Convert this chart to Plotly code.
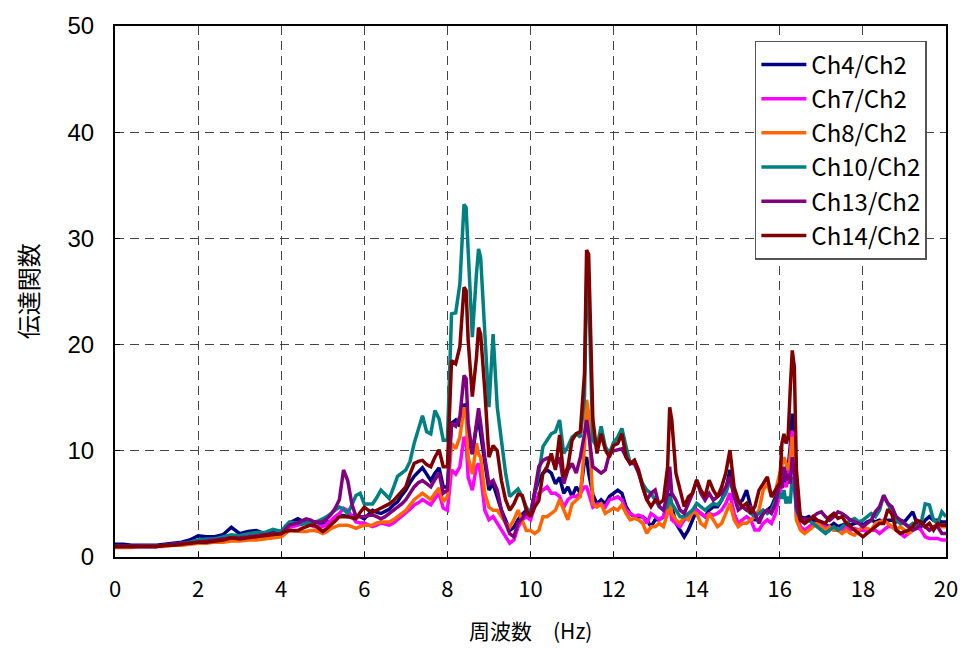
import plotly.graph_objects as go

# Frequency grid (Hz)
freq = [0.0, 0.2, 0.4, 0.6, 0.8, 1.0, 1.2, 1.4, 1.6, 1.8, 2.0, 2.2, 2.4, 2.6, 2.8, 3.0, 3.2, 3.4, 3.6, 3.8,
        4.0, 4.1, 4.2, 4.3, 4.4, 4.5, 4.6, 4.7, 4.8, 4.9, 5.0, 5.1, 5.2, 5.3, 5.4, 5.5, 5.6, 5.7, 5.8, 5.9,
        6.0, 6.1, 6.2, 6.3, 6.4, 6.5, 6.6, 6.7, 6.8, 6.9, 7.0, 7.1, 7.2, 7.3, 7.4, 7.5, 7.6, 7.7, 7.8, 7.9,
        8.0, 8.1, 8.2, 8.3, 8.4, 8.45, 8.5, 8.6, 8.7, 8.75, 8.8, 8.9, 9.0, 9.1, 9.2, 9.3, 9.4, 9.5, 9.6, 9.7, 9.8, 9.9,
        10.0, 10.1, 10.2, 10.3, 10.4, 10.5, 10.6, 10.7, 10.8, 10.9, 11.0, 11.1, 11.2, 11.3, 11.35,
        11.4, 11.5, 11.6, 11.7, 11.8, 11.9, 12.0,
        12.1, 12.2, 12.3, 12.4, 12.5, 12.6, 12.7, 12.8, 12.9, 13.0, 13.1, 13.2, 13.3, 13.35,
        13.4, 13.5, 13.6, 13.7, 13.8, 13.9, 14.0, 14.1, 14.2, 14.3, 14.4, 14.5, 14.6, 14.7, 14.8, 14.9,
        15.0, 15.1, 15.2, 15.3, 15.4, 15.5, 15.6, 15.7, 15.8, 15.9, 16.0,
        16.05, 16.1, 16.15, 16.2, 16.25, 16.3, 16.35, 16.4,
        16.5, 16.6, 16.7, 16.8, 16.9, 17.0, 17.1, 17.2, 17.3, 17.4, 17.5, 17.6, 17.7, 17.8, 17.9,
        18.0, 18.1, 18.2, 18.3, 18.4, 18.5, 18.6, 18.7, 18.8, 18.9, 19.0, 19.1, 19.2, 19.3, 19.4, 19.5,
        19.6, 19.7, 19.8, 19.9, 20.0]

ch4 = [1.2, 1.2, 1.1, 1.1, 1.1, 1.1, 1.2, 1.3, 1.4, 1.6, 2.0, 1.9, 1.9, 2.1, 2.8, 2.2, 2.4, 2.5, 2.2, 2.4,
       2.4, 2.8, 3.2, 3.4, 3.6, 3.4, 3.3, 3.3, 3.3, 3.2, 3.2, 3.3, 3.3, 3.6, 3.9, 3.9, 3.8, 3.9, 3.9, 3.8,
       3.6, 4.0, 4.4, 4.2, 4.1, 4.3, 4.5, 4.9, 5.2, 5.8, 6.3, 7.0, 7.6, 8.0, 8.4, 7.8, 7.2, 7.9, 8.4, 6.6,
       6.6, 12.6, 12.9, 12.3, 14.4, 14.1, 11.3, 9.7, 12.3, 12.9, 11.6, 8.5, 6.3, 6.9, 5.7, 4.4, 3.5, 2.5, 2.8, 3.5, 4.0, 4.4,
       4.1, 6.0, 7.25, 7.9, 8.2, 7.9, 6.9, 7.5, 6.0, 6.6, 5.7, 6.6, 6.0, 9.1, 9.4,
       7.9, 5.9, 5.0, 5.4, 5.0, 5.7, 6.0,
       6.3, 6.0, 4.74, 4.1, 3.8, 3.8, 3.8, 3.5, 2.86, 3.5, 3.5, 3.8, 5.05, 6.0,
       4.74, 3.17, 2.54, 1.9, 2.54, 3.5, 4.42, 4.1, 3.8, 4.42, 4.74, 4.74, 5.36, 6.3, 8.2, 5.67,
       5.05, 5.36, 6.3, 4.74, 3.5, 3.5, 4.1, 4.42, 4.74, 5.67, 7.0,
       6.5, 7.55, 6.9, 8.2, 10.4, 13.5, 11.9, 5.04,
       3.8, 3.63, 3.8, 3.47, 3.16, 3.16, 3.0, 2.85, 3.16, 2.85, 3.0, 3.16, 3.0, 3.16, 3.3,
       3.0, 3.3, 3.47, 3.3, 3.47, 3.3, 3.47, 3.47, 3.3, 3.47, 3.3, 3.8, 4.26, 3.16, 2.85, 3.47,
       3.8, 3.47, 3.47, 3.3, 3.3]

ch7 = [1.0, 1.0, 1.0, 1.0, 1.0, 1.0, 1.1, 1.1, 1.2, 1.3, 1.4, 1.5, 1.5, 1.6, 1.7, 1.6, 1.8, 1.8, 1.9, 2.0,
       2.1, 2.5, 2.8, 2.9, 3.0, 3.1, 3.2, 3.0, 2.85, 2.85, 2.85, 3.1, 3.5, 3.8, 4.1, 4.6, 4.4, 3.8, 3.3, 3.2,
       3.2, 3.0, 2.85, 3.0, 3.2, 3.1, 3.0, 3.2, 3.5, 3.8, 4.1, 4.5, 4.9, 5.1, 5.4, 5.1, 4.9, 5.5, 6.0, 4.6,
       4.4, 8.2, 7.8, 8.5, 11.3, 11.0, 7.5, 6.3, 8.5, 8.8, 7.8, 4.4, 3.5, 3.8, 3.2, 2.5, 1.9, 1.3, 1.6, 2.8, 3.5, 3.8,
       3.5, 4.7, 6.0, 6.3, 6.6, 6.0, 6.0, 5.7, 4.7, 5.4, 5.7, 5.7, 6.0, 6.6, 6.6,
       6.0, 4.7, 5.0, 5.0, 4.7, 5.4, 5.5,
       5.67, 5.36, 4.42, 4.1, 3.8, 3.95, 3.8, 3.17, 4.1, 3.8, 3.5, 3.8, 5.05, 4.74,
       3.5, 3.17, 2.86, 3.5, 3.8, 4.1, 4.42, 4.1, 3.8, 4.1, 3.95, 4.1, 4.42, 5.05, 6.0, 4.1,
       3.17, 3.5, 3.8, 3.5, 2.54, 2.54, 3.17, 3.5, 3.17, 4.1, 6.0,
       7.0, 6.9, 6.6, 7.2, 9.4, 11.9, 10.05, 3.8,
       2.85, 2.53, 2.85, 3.16, 3.16, 3.0, 2.85, 2.7, 2.53, 2.7, 2.53, 2.85, 2.53, 2.7, 2.53,
       2.53, 2.38, 2.53, 2.53, 2.22, 2.53, 2.85, 2.85, 2.53, 2.22, 1.9, 2.22, 2.53, 2.85, 2.53, 1.9,
       1.75, 1.75, 1.75, 1.6, 1.6]

ch8 = [0.9, 0.9, 0.9, 1.0, 1.0, 1.0, 1.0, 1.1, 1.1, 1.2, 1.3, 1.3, 1.4, 1.4, 1.5, 1.5, 1.6, 1.6, 1.7, 1.8,
       1.9, 2.2, 2.5, 2.45, 2.4, 2.4, 2.4, 2.5, 2.5, 2.4, 2.2, 2.4, 2.7, 2.85, 3.0, 3.0, 3.0, 2.85, 2.7, 2.85,
       3.0, 3.0, 3.0, 3.2, 3.3, 3.3, 3.3, 3.5, 3.8, 4.1, 4.4, 4.9, 5.4, 5.7, 6.0, 5.7, 5.4, 6.0, 6.5, 5.2,
       5.7, 10.7, 10.2, 11.3, 14.1, 13.5, 9.4, 7.8, 10.7, 9.7, 9.4, 6.0, 4.7, 4.4, 4.4, 3.8, 3.2, 2.8, 3.5, 4.4, 3.5, 2.5,
       2.5, 2.2, 2.5, 3.8, 3.8, 4.1, 4.4, 5.4, 4.4, 3.5, 5.0, 5.4, 5.7, 10.4, 14.8,
       13.5, 5.0, 4.7, 5.0, 4.1, 4.4, 4.6,
       4.42, 4.9, 4.1, 3.5, 3.64, 3.5, 3.17, 2.23, 2.86, 2.86, 3.17, 2.86, 4.1, 5.67,
       4.1, 3.5, 3.17, 3.8, 3.5, 4.27, 4.1, 3.17, 2.86, 4.1, 3.5, 2.86, 3.17, 4.1, 5.05, 3.5,
       2.86, 3.17, 3.17, 3.5, 3.8, 4.42, 6.3, 6.9, 5.67, 6.3, 8.0,
       8.5, 9.4, 8.8, 8.2, 9.1, 11.3, 9.4, 3.47,
       2.53, 2.22, 2.53, 2.85, 3.16, 2.85, 2.53, 2.85, 2.53, 2.53, 2.22, 2.53, 2.22, 2.06, 2.53,
       2.85, 2.7, 2.53, 3.16, 3.3, 3.47, 3.16, 2.85, 2.53, 2.85, 2.53, 2.22, 2.53, 2.85, 3.16, 2.85,
       2.53, 2.85, 3.16, 2.85, 2.85]

ch10 = [1.0, 1.0, 1.0, 1.0, 1.0, 1.0, 1.1, 1.2, 1.3, 1.4, 1.6, 1.7, 1.7, 1.9, 2.1, 2.0, 2.2, 2.3, 2.3, 2.6,
        2.4, 2.9, 3.3, 3.2, 3.2, 3.1, 3.2, 3.3, 3.3, 3.4, 3.6, 3.8, 4.1, 4.4, 4.7, 4.5, 4.1, 4.9, 5.8, 6.0,
        5.0, 5.0, 5.0, 5.6, 6.3, 5.9, 5.5, 6.5, 7.6, 7.9, 8.2, 9.0, 10.7, 12.0, 13.3, 11.8, 11.6, 13.8, 13.0, 11.0,
        11.0, 22.9, 23.0, 25.7, 33.2, 32.9, 28.2, 20.7, 26.7, 29.0, 28.2, 21.3, 14.1, 21.0, 14.1, 11.0, 7.9, 5.7, 6.0, 6.4, 5.7, 4.7,
        4.1, 6.0, 7.9, 10.4, 11.0, 11.6, 11.8, 12.9, 9.75, 10.4, 11.3, 11.6, 11.3, 15.1, 26.0,
        25.1, 11.0, 10.4, 12.3, 10.4, 9.75, 10.8,
        11.3, 12.1, 10.4, 8.8, 9.1, 8.0, 6.9, 6.3, 6.0, 5.36, 4.74, 4.42, 4.74, 5.67,
        5.05, 4.42, 3.8, 3.8, 4.1, 4.42, 5.05, 4.74, 4.42, 4.74, 5.05, 4.9, 5.36, 6.0, 7.24, 6.0,
        5.05, 4.74, 4.42, 4.1, 3.8, 4.1, 4.42, 4.1, 4.42, 5.36, 6.0,
        5.5, 6.3, 5.04, 5.67, 5.04, 7.55, 6.6, 4.4,
        3.47, 3.3, 3.47, 3.16, 2.85, 2.53, 2.22, 2.53, 2.85, 2.53, 2.85, 3.16, 3.47, 3.63, 3.3,
        3.47, 3.8, 4.1, 3.8, 4.4, 5.8, 5.04, 4.4, 3.47, 3.16, 3.16, 2.85, 3.16, 2.85, 3.16, 5.0,
        4.9, 3.47, 3.16, 4.26, 3.8]

ch13 = [1.0, 1.0, 1.0, 1.0, 1.0, 1.0, 1.1, 1.2, 1.3, 1.3, 1.4, 1.5, 1.6, 1.7, 1.8, 1.8, 1.9, 2.0, 2.1, 2.2,
        2.2, 2.6, 3.0, 3.1, 3.2, 3.4, 3.6, 3.5, 3.3, 3.3, 3.3, 3.6, 4.0, 4.6, 5.4, 8.2, 7.2, 5.0, 3.8, 3.8,
        3.8, 3.9, 3.95, 3.8, 3.6, 3.8, 4.1, 4.4, 4.6, 5.0, 5.4, 6.0, 6.6, 7.0, 7.2, 6.9, 6.6, 7.3, 7.9, 6.0,
        6.3, 12.6, 12.3, 13.2, 17.1, 16.8, 12.6, 9.7, 12.6, 14.0, 12.6, 9.4, 6.9, 7.2, 6.3, 4.4, 3.2, 2.2, 1.9, 3.2, 3.6, 4.2,
        3.8, 6.3, 8.5, 9.1, 9.3, 9.4, 8.5, 9.4, 6.9, 8.2, 8.8, 7.9, 9.4, 11.6, 12.9,
        11.6, 8.5, 8.2, 7.9, 8.2, 9.75, 10.0,
        10.06, 10.2, 9.4, 8.8, 8.8, 7.9, 6.6, 5.36, 6.0, 6.3, 4.74, 4.42, 6.0, 8.5,
        6.0, 5.36, 4.42, 4.1, 5.05, 6.0, 7.24, 6.0, 5.36, 6.0, 5.36, 5.67, 6.0, 6.6, 7.55, 5.67,
        4.42, 4.74, 4.42, 4.74, 4.1, 3.17, 4.1, 4.42, 4.1, 5.05, 7.0,
        6.5, 8.5, 7.2, 7.86, 6.9, 9.4, 8.2, 4.73,
        3.47, 3.63, 3.47, 3.8, 4.1, 4.26, 3.8, 3.47, 3.8, 4.26, 4.1, 3.8, 3.47, 3.3, 3.16,
        2.85, 3.16, 3.47, 4.26, 4.73, 5.8, 5.04, 4.73, 3.8, 3.47, 3.16, 2.85, 2.53, 2.7, 3.16, 2.85,
        2.53, 2.85, 2.85, 2.22, 2.22]

ch14 = [1.0, 1.0, 1.0, 1.0, 1.0, 1.0, 1.1, 1.1, 1.2, 1.3, 1.4, 1.4, 1.5, 1.6, 1.8, 1.7, 1.8, 1.9, 2.0, 2.1,
        2.2, 2.4, 2.5, 2.5, 2.5, 2.7, 2.85, 3.0, 3.0, 2.7, 2.4, 2.7, 3.0, 3.4, 3.8, 3.8, 3.8, 3.7, 3.6, 4.2,
        4.7, 4.4, 4.2, 4.4, 4.6, 4.8, 5.0, 5.3, 5.7, 6.1, 6.6, 7.8, 8.8, 9.0, 9.1, 8.7, 8.5, 9.4, 10.1, 8.5,
        8.5, 18.5, 18.2, 19.8, 25.4, 25.1, 20.4, 15.1, 18.8, 21.6, 21.0, 15.7, 9.4, 10.5, 10.0, 7.2, 5.4, 4.4, 5.0, 5.9, 5.8, 4.4,
        3.8, 4.7, 5.3, 7.9, 8.5, 9.75, 8.2, 11.5, 7.5, 8.5, 11.0, 11.6, 11.8, 17.3, 28.9,
        28.5, 13.0, 9.75, 11.6, 10.1, 9.4, 10.5,
        10.7, 11.6, 9.4, 8.8, 9.1, 8.2, 6.6, 5.4, 4.74, 5.36, 5.05, 5.36, 8.5, 14.1,
        12.9, 7.9, 6.3, 4.74, 5.67, 6.0, 7.24, 6.3, 5.67, 7.24, 6.3, 5.67, 6.6, 7.9, 10.06, 6.6,
        5.36, 4.74, 5.05, 4.1, 4.74, 6.3, 6.9, 7.55, 5.67, 6.3, 7.0,
        10.7, 11.6, 10.7, 11.3, 15.7, 19.45, 17.9, 8.2,
        3.47, 3.16, 3.47, 3.8, 3.47, 3.3, 3.16, 3.8, 4.1, 3.63, 3.8, 3.16, 2.85, 2.53, 2.22,
        1.9, 2.22, 2.53, 2.85, 3.16, 3.16, 4.5, 4.0, 2.53, 2.22, 2.38, 2.53, 2.85, 3.47, 3.3, 2.85,
        3.16, 2.53, 3.16, 3.0, 3.0]

series_names = ["Ch4/Ch2", "Ch7/Ch2", "Ch8/Ch2", "Ch10/Ch2", "Ch13/Ch2", "Ch14/Ch2"]
series_values = [ch4, ch7, ch8, ch10, ch13, ch14]
series_colors = ["#000080", "#FF00FF", "#FF6600", "#008080", "#800080", "#800000"]

x_ticks = [0, 2, 4, 6, 8, 10, 12, 14, 16, 18, 20]
y_ticks = [0, 10, 20, 30, 40, 50]

for v in series_values:
    assert len(v) == len(freq), (len(v), len(freq))

JP = "Noto Sans CJK JP"

fig = go.Figure()
for name, vals, col in zip(series_names, series_values, series_colors):
    fig.add_trace(go.Scatter(
        x=freq, y=vals, name=name, mode="lines",
        line=dict(color=col, width=3.5), legendgroup=name,
    ))

fig.update_layout(
    width=970, height=648,
    margin=dict(l=115, r=15, t=25, b=91),
    paper_bgcolor="white", plot_bgcolor="white",
    showlegend=True,
    legend=dict(
        x=0.77, y=0.972, xanchor="left", yanchor="top",
        bgcolor="white", bordercolor="#555555", borderwidth=1.5,
        font=dict(family=JP, size=24, color="black"),
        tracegroupgap=0, itemwidth=45,
    ),
    font=dict(family=JP, color="black"),
)

fig.update_xaxes(
    range=[0, 20], tickvals=x_ticks, ticktext=[str(t) for t in x_ticks],
    showline=True, linecolor="black", linewidth=2, mirror=True,
    showgrid=True, gridcolor="#444444", gridwidth=1, griddash="9px,6px",
    ticks="inside", ticklen=5, tickcolor="black", tickwidth=1,
    tickfont=dict(family=JP, size=22, color="black"),
    ticklabelstandoff=12, zeroline=False,
)
fig.update_yaxes(
    range=[0, 50], tickvals=y_ticks, ticktext=[str(t) for t in y_ticks],
    showline=True, linecolor="black", linewidth=2, mirror=True,
    showgrid=True, gridcolor="#444444", gridwidth=1, griddash="9px,6px",
    ticks="inside", ticklen=5, tickcolor="black", tickwidth=1,
    tickfont=dict(family="Liberation Sans", size=24, color="black"),
    ticklabelstandoff=14, zeroline=False,
)

fig.add_annotation(
    text="伝達関数", xref="paper", yref="paper", x=-0.105, y=0.5,
    xanchor="center", yanchor="middle", textangle=-90, showarrow=False,
    font=dict(family=JP, size=24, color="black"),
)
fig.add_annotation(
    text="周波数　(Hz)", xref="paper", yref="paper", x=0.5, y=-0.138,
    xanchor="center", yanchor="middle", showarrow=False,
    font=dict(family=JP, size=21, color="black"),
)

fig.write_html("out.html")
